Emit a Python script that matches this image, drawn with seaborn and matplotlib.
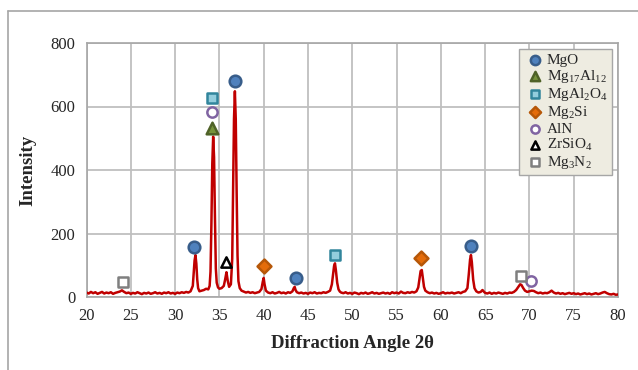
import matplotlib
matplotlib.use("Agg")
import matplotlib.pyplot as plt
import seaborn as sns
import pandas as pd
from matplotlib.lines import Line2D

# XRD pattern (angle in deg 2theta, intensity)
angle = [20.0, 20.25, 20.5, 20.75, 21.0, 21.25, 21.5, 21.75, 22.0, 22.25, 22.5, 22.75,
         23.0, 23.25, 23.5, 23.75, 24.0, 24.25, 24.5, 24.75, 25.0, 25.25, 25.5, 25.75,
         26.0, 26.25, 26.5, 26.75, 27.0, 27.25, 27.5, 27.75, 28.0, 28.25, 28.5, 28.75,
         29.0, 29.25, 29.5, 29.75, 30.0, 30.25, 30.5, 30.75, 31.0, 31.25, 31.5, 31.75,
         32.0, 32.1, 32.2, 32.3, 32.4, 32.5, 32.6, 32.75, 33.0, 33.25, 33.5, 33.75,
         33.9, 34.0, 34.1, 34.2, 34.3, 34.4, 34.5, 34.6, 34.7, 34.85, 35.0, 35.25,
         35.5, 35.65, 35.8, 35.95, 36.1, 36.3, 36.45, 36.55, 36.65, 36.75, 36.85, 36.95,
         37.05, 37.15, 37.3, 37.5, 37.75, 38.0, 38.25, 38.5, 38.75, 39.0, 39.25, 39.5,
         39.75, 39.9, 40.0, 40.1, 40.25, 40.5, 40.75, 41.0, 41.25, 41.5, 41.75, 42.0,
         42.25, 42.5, 42.75, 43.0, 43.25, 43.4, 43.5, 43.6, 43.75, 44.0, 44.25, 44.5,
         44.75, 45.0, 45.25, 45.5, 45.75, 46.0, 46.25, 46.5, 46.75, 47.0, 47.25, 47.5,
         47.7, 47.85, 47.95, 48.05, 48.15, 48.3, 48.45, 48.6, 48.75, 49.0, 49.25, 49.5,
         49.75, 50.0, 50.25, 50.5, 50.75, 51.0, 51.25, 51.5, 51.75, 52.0, 52.25, 52.5,
         52.75, 53.0, 53.25, 53.5, 53.75, 54.0, 54.25, 54.5, 54.75, 55.0, 55.25, 55.5,
         55.75, 56.0, 56.25, 56.5, 56.75, 57.0, 57.25, 57.45, 57.6, 57.72, 57.85, 57.97,
         58.1, 58.25, 58.5, 58.75, 59.0, 59.25, 59.5, 59.75, 60.0, 60.25, 60.5, 60.75,
         61.0, 61.25, 61.5, 61.75, 62.0, 62.25, 62.5, 62.75, 63.0, 63.15, 63.3, 63.4,
         63.5, 63.65, 63.8, 64.0, 64.25, 64.5, 64.7, 64.85, 65.0, 65.25, 65.5, 65.75,
         66.0, 66.25, 66.5, 66.75, 67.0, 67.25, 67.5, 67.75, 68.0, 68.25, 68.5, 68.75,
         68.95, 69.1, 69.3, 69.5, 69.75, 70.0, 70.25, 70.5, 70.75, 71.0, 71.25, 71.5,
         71.75, 72.0, 72.25, 72.5, 72.75, 73.0, 73.25, 73.5, 73.75, 74.0, 74.25, 74.5,
         74.75, 75.0, 75.25, 75.5, 75.75, 76.0, 76.25, 76.5, 76.75, 77.0, 77.25, 77.5,
         77.75, 78.0, 78.25, 78.5, 78.75, 79.0, 79.25, 79.5, 79.75, 80.0]
intensity = [14, 11, 16, 12, 15, 10, 13, 16, 11, 14, 12, 15,
             10, 13, 15, 17, 21, 16, 12, 14, 10, 13, 11, 15,
             12, 9, 13, 11, 14, 10, 12, 15, 11, 13, 10, 14,
             12, 15, 11, 13, 10, 14, 12, 15, 13, 16, 14, 18,
             35, 75, 115, 132, 105, 55, 28, 18, 20, 22, 26, 24,
             35, 80, 230, 420, 505, 440, 250, 90, 45, 30, 26, 28,
             35, 55, 78, 50, 32, 40, 120, 330, 560, 648, 560, 330,
             130, 50, 28, 20, 17, 14, 16, 13, 15, 12, 14, 16,
             25, 48, 60, 40, 20, 14, 12, 15, 11, 13, 16, 12,
             14, 11, 15, 13, 18, 28, 32, 22, 15, 12, 14, 11,
             13, 10, 14, 12, 15, 11, 13, 12, 15, 13, 16, 20,
             40, 75, 98, 106, 85, 45, 24, 17, 14, 12, 15, 11,
             13, 10, 14, 12, 9, 13, 11, 14, 10, 12, 15, 11,
             13, 10, 12, 14, 11, 13, 10, 15, 12, 14, 11, 17,
             13, 12, 15, 13, 16, 14, 18, 30, 60, 82, 85, 60,
             32, 20, 15, 12, 14, 11, 13, 10, 12, 15, 11, 13,
             12, 14, 11, 13, 15, 12, 16, 18, 28, 70, 118, 132,
             110, 55, 28, 18, 14, 16, 22, 17, 13, 11, 14, 10,
             13, 11, 14, 12, 10, 13, 11, 14, 13, 16, 22, 32,
             40, 38, 28, 20, 16, 18, 20, 19, 15, 12, 14, 11,
             13, 12, 15, 20, 14, 11, 13, 10, 12, 9, 11, 13,
             10, 12, 9, 11, 8, 10, 12, 9, 11, 8, 10, 12,
             9, 11, 14, 16, 12, 9, 8, 10, 7, 8]

# phase markers: label, angle, height
phase_names = ["MgO", "Mg$_{17}$Al$_{12}$", "MgAl$_2$O$_4$", "Mg$_2$Si",
               "AlN", "ZrSiO$_4$", "Mg$_3$N$_2$"]
phase_angle = [[32.17, 36.76, 43.65, 63.4], [34.13], [34.13, 48.1], [40.03, 57.75],
               [34.13, 70.2], [35.8], [24.08, 69.0]]
phase_height = [[157, 680, 61, 162], [532], [628, 132], [99, 124],
                [583, 50], [111], [47, 66]]
phase_marker = ["o", "^", "s", "D", "o", "^", "s"]
phase_face = ["#4F81BD", "#77933C", "#93CDDD", "#E46C0A", "white", "white", "white"]
phase_edge = ["#385D8A", "#4F6228", "#31859C", "#B65708", "#8064A2", "black", "#7F7F7F"]
phase_size = [70, 70, 60, 50, 55, 55, 50]

sns.set_style("white")
plt.rcParams["font.family"] = ["Liberation Serif", "DejaVu Serif"]
plt.rcParams["mathtext.fontset"] = "custom"
plt.rcParams["mathtext.rm"] = "Liberation Serif"
plt.rcParams["mathtext.it"] = "Liberation Serif:italic"

fig = plt.figure(figsize=(6.38, 3.70), dpi=100)
ax = fig.add_axes([86.5 / 638, 1 - 297 / 370, (618 - 86.5) / 638, (297 - 43) / 370])

df = pd.DataFrame({"angle": angle, "intensity": intensity})
sns.lineplot(data=df, x="angle", y="intensity", color="#C00000", linewidth=1.8,
             ax=ax, zorder=3)

for i in range(len(phase_names)):
    sns.scatterplot(x=phase_angle[i], y=phase_height[i], marker=phase_marker[i],
                    s=phase_size[i], color=phase_face[i], edgecolor=phase_edge[i],
                    linewidth=1.8, label=phase_names[i], ax=ax, zorder=4)

ax.set_xlim(20, 80)
ax.set_ylim(0, 800)
ax.set_xticks(range(20, 81, 5))
ax.set_yticks(range(0, 801, 200))
ax.grid(True, color="#BFBFBF", linewidth=1.3)
ax.set_axisbelow(True)
for s in ax.spines.values():
    s.set_color("#A6A6A6")
    s.set_linewidth(1.2)
ax.tick_params(length=0, labelsize=12, pad=8)
ax.set_xlabel("Diffraction Angle 2θ", fontsize=13.5, fontweight="bold", labelpad=8)
ax.set_ylabel("Intensity", fontsize=13.5, fontweight="bold", labelpad=10)

leg = ax.legend(loc="upper right", bbox_to_anchor=(0.9887, 0.976), fontsize=11,
                frameon=True, fancybox=False, facecolor="#EEECE1",
                edgecolor="#A6A6A6", handletextpad=0.1, labelspacing=0.06,
                borderpad=0.3, handlelength=1.4, borderaxespad=0.0,
                markerscale=0.8)
leg.get_frame().set_linewidth(1.0)
leg.get_frame().set_alpha(1)

# outer frame of the chart area
fig.add_artist(Line2D([8 / 638, 8 / 638], [0, 1 - 11 / 370], color="#A6A6A6",
                      linewidth=1.2, transform=fig.transFigure))
fig.add_artist(Line2D([8 / 638, 1], [1 - 11 / 370, 1 - 11 / 370], color="#A6A6A6",
                      linewidth=1.2, transform=fig.transFigure))

fig.savefig("out.png", dpi=100)
